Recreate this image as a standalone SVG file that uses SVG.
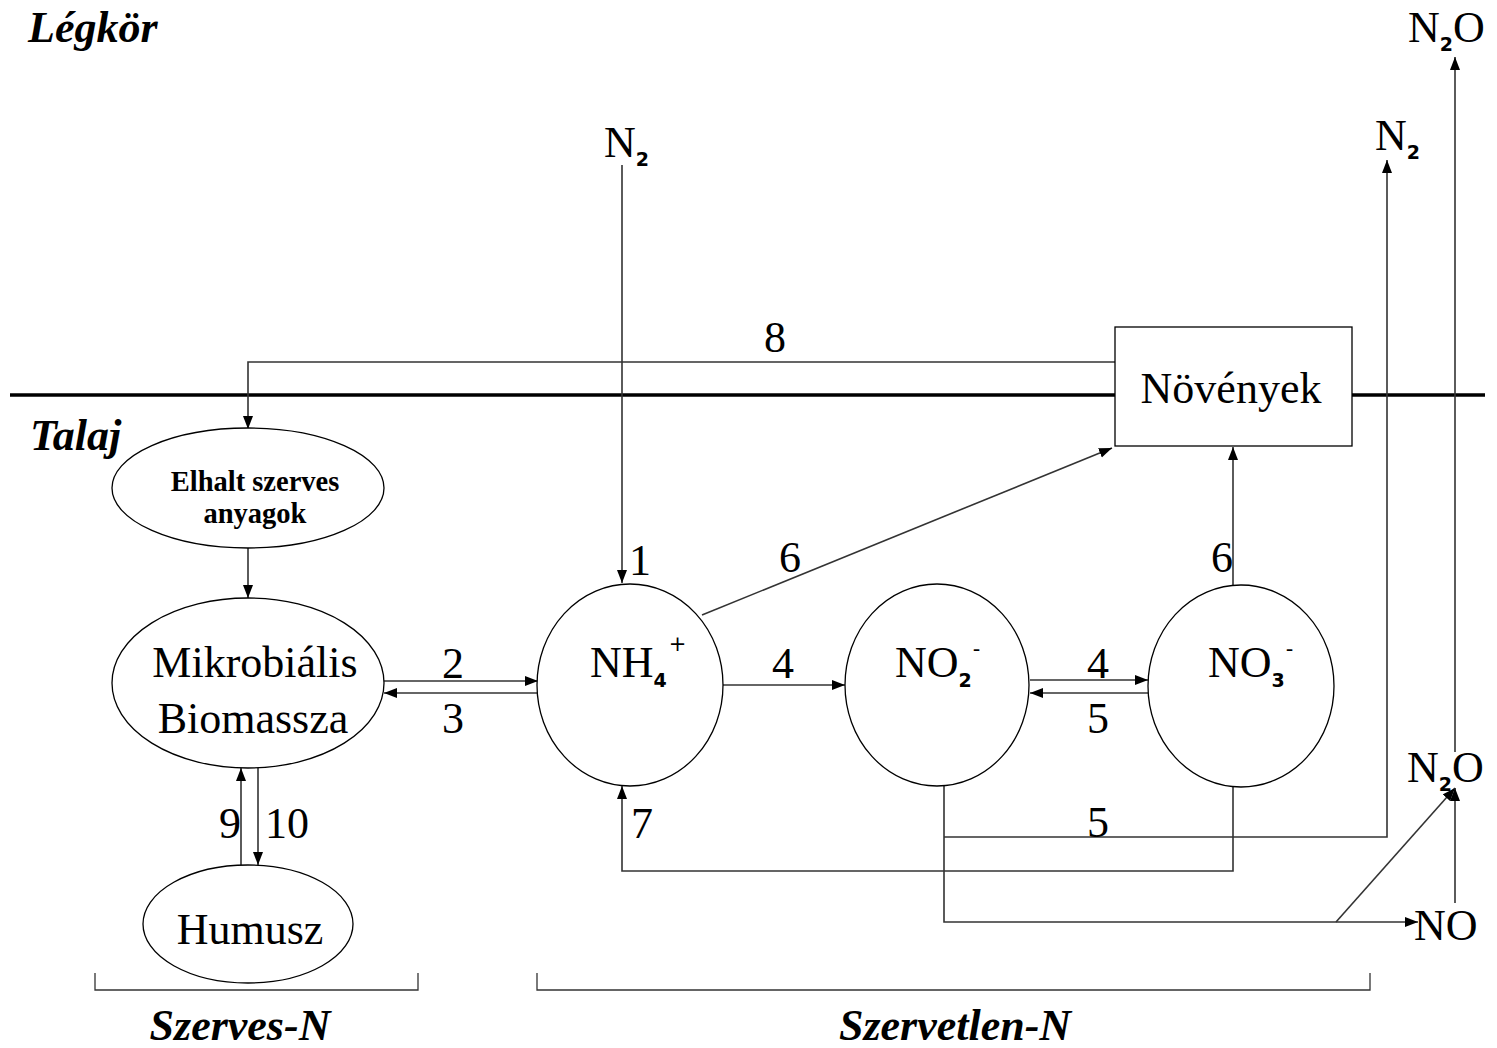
<svg xmlns="http://www.w3.org/2000/svg" width="1497" height="1048" viewBox="0 0 1497 1048">
<defs>
<marker id="ah" markerUnits="userSpaceOnUse" markerWidth="14" markerHeight="11" refX="13" refY="5" orient="auto">
<path d="M0,0 L13,5 L0,10 z" fill="#000"/>
</marker>
<style>
.t{font-family:"Liberation Serif","Times New Roman",serif;font-size:44px;fill:#000}
.ti{font-family:"Liberation Serif","Times New Roman",serif;font-size:44px;font-weight:bold;font-style:italic;fill:#000}
.sm{font-family:"Liberation Serif","Times New Roman",serif;font-size:28.5px;font-weight:bold;fill:#000}
.sub{font-family:"DejaVu Sans","Liberation Sans",sans-serif;font-size:19px;font-weight:bold}
.sup{font-family:"DejaVu Sans","Liberation Sans",sans-serif;font-size:21px}
.nd{fill:#fff;stroke:#000;stroke-width:1.3}
.c{fill:none;stroke:#333;stroke-width:1.6}
.a{marker-end:url(#ah)}
</style>
</defs>
<rect width="1497" height="1048" fill="#fff"/>

<g id="boundary">
<line x1="10" y1="395" x2="1485" y2="395" stroke="#000" stroke-width="3.5"/>
</g>

<g id="titles">
<text class="ti" x="28" y="42">Légkör</text>
<text class="ti" x="30" y="450">Talaj</text>
<text class="ti" x="240" y="1040" text-anchor="middle">Szerves-N</text>
<text class="ti" x="955" y="1040" text-anchor="middle">Szervetlen-N</text>
</g>

<g id="brackets" fill="none" stroke="#333" stroke-width="1.3">
<path d="M95,973 V990 H418 V973"/>
<path d="M537,973 V990 H1370 V973"/>
</g>

<g id="connectors">
<polyline class="c a" points="1115,362 248,362 248,429"/>
<line class="c a" x1="248" y1="548" x2="248" y2="598"/>
<line class="c a" x1="384" y1="681" x2="538" y2="681"/>
<line class="c a" x1="538" y1="693" x2="384" y2="693"/>
<line class="c a" x1="241" y1="865" x2="241" y2="768"/>
<line class="c a" x1="258" y1="768" x2="258" y2="865"/>
<line class="c a" x1="622" y1="165" x2="622" y2="583"/>
<line class="c a" x1="702" y1="615" x2="1112" y2="448"/>
<line class="c a" x1="723" y1="685" x2="845" y2="685"/>
<line class="c a" x1="1030" y1="680" x2="1148" y2="680"/>
<line class="c a" x1="1148" y1="693" x2="1030" y2="693"/>
<line class="c a" x1="1233" y1="585" x2="1233" y2="447"/>
<polyline class="c a" points="1233,786 1233,871 622,871 622,786"/>
<polyline class="c a" points="944,837 1387,837 1387,160"/>
<polyline class="c a" points="944,786 944,922 1418,922"/>
<line class="c a" x1="1336" y1="922" x2="1455" y2="788"/>
<line class="c a" x1="1455" y1="903" x2="1455" y2="788"/>
<line class="c a" x1="1455" y1="752" x2="1455" y2="57"/>
</g>

<g id="labels">
<text class="t" x="775" y="352" text-anchor="middle">8</text>
<text class="t" x="640" y="575" text-anchor="middle">1</text>
<text class="t" x="790" y="572" text-anchor="middle">6</text>
<text class="t" x="1222" y="572" text-anchor="middle">6</text>
<text class="t" x="453" y="678" text-anchor="middle">2</text>
<text class="t" x="453" y="733" text-anchor="middle">3</text>
<text class="t" x="783" y="678" text-anchor="middle">4</text>
<text class="t" x="1098" y="678" text-anchor="middle">4</text>
<text class="t" x="1098" y="733" text-anchor="middle">5</text>
<text class="t" x="1098" y="837" text-anchor="middle">5</text>
<text class="t" x="642" y="838" text-anchor="middle">7</text>
<text class="t" x="230" y="838" text-anchor="middle">9</text>
<text class="t" x="287" y="838" text-anchor="middle">10</text>
</g>

<g id="n-elhalt">
<ellipse class="nd" cx="248" cy="488" rx="136" ry="60"/>
<text class="sm" x="255" y="491" text-anchor="middle">Elhalt szerves</text>
<text class="sm" x="255" y="523" text-anchor="middle">anyagok</text>
</g>
<g id="n-mikro">
<ellipse class="nd" cx="248" cy="683" rx="136" ry="85"/>
<text class="t" x="255" y="677" text-anchor="middle">Mikrobiális</text>
<text class="t" x="253" y="733" text-anchor="middle">Biomassza</text>
</g>
<g id="n-humusz">
<ellipse class="nd" cx="248" cy="924" rx="105" ry="59"/>
<text class="t" x="250" y="944" text-anchor="middle">Humusz</text>
</g>
<g id="n-novenyek">
<rect class="nd" x="1115" y="327" width="237" height="119"/>
<text class="t" x="1231" y="403" text-anchor="middle">Növények</text>
</g>
<g id="n-nh4">
<ellipse class="nd" cx="630" cy="685" rx="93" ry="101"/>
<text class="t" x="590" y="677">NH<tspan class="sub" dy="10">4</tspan><tspan class="sup" dx="2" dy="-36">+</tspan></text>
</g>
<g id="n-no2">
<ellipse class="nd" cx="937" cy="685" rx="92" ry="101"/>
<text class="t" x="895" y="677">NO<tspan class="sub" dy="10">2</tspan><tspan class="sup" dx="1" dy="-31">-</tspan></text>
</g>
<g id="n-no3">
<ellipse class="nd" cx="1241" cy="686" rx="93" ry="101"/>
<text class="t" x="1208" y="677">NO<tspan class="sub" dy="10">3</tspan><tspan class="sup" dx="1" dy="-31">-</tspan></text>
</g>

<g id="n-n2-top">
<text class="t" x="604" y="157">N<tspan class="sub" dy="9">2</tspan></text>
</g>
<g id="n-n2-right">
<text class="t" x="1375" y="150">N<tspan class="sub" dy="9">2</tspan></text>
</g>
<g id="n-n2o-top">
<text class="t" x="1408" y="42">N<tspan class="sub" dy="9">2</tspan><tspan dy="-9">O</tspan></text>
</g>
<g id="n-n2o-low">
<text class="t" x="1407" y="782">N<tspan class="sub" dy="9">2</tspan><tspan dy="-9">O</tspan></text>
</g>
<g id="n-no">
<text class="t" x="1414" y="940">NO</text>
</g>
</svg>
